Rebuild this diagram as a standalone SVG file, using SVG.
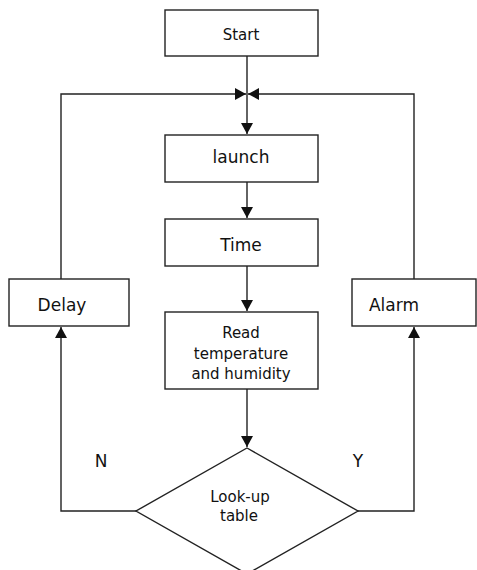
<svg xmlns="http://www.w3.org/2000/svg" width="477" height="570" viewBox="0 0 477 570">
<style>
.box{fill:#fff;stroke:#222;stroke-width:1.4}
.ln{fill:none;stroke:#222;stroke-width:1.4}
text{font-family:"DejaVu Sans",sans-serif;fill:#111;text-anchor:middle}
.s15{font-size:15px}
.s17{font-size:17px}
</style>
<defs>
<marker id="ar" markerUnits="userSpaceOnUse" markerWidth="12" markerHeight="12" viewBox="0 0 12 12" refX="11" refY="6" orient="auto">
<path d="M0,0 L11,6 L0,12 Z" fill="#111"/>
</marker>
</defs>
<rect width="477" height="570" fill="#fff"/>
<g id="connectors">
<path class="ln" d="M247,56 V134" marker-end="url(#ar)"/>
<path class="ln" d="M61,279 V94 H246" marker-end="url(#ar)"/>
<path class="ln" d="M414,279 V94 H248" marker-end="url(#ar)"/>
<path class="ln" d="M247,182 V218" marker-end="url(#ar)"/>
<path class="ln" d="M247,266 V311" marker-end="url(#ar)"/>
<path class="ln" d="M247,389 V447" marker-end="url(#ar)"/>
<path class="ln" d="M136,511 H61 V327" marker-end="url(#ar)"/>
<path class="ln" d="M358,511 H414 V327" marker-end="url(#ar)"/>
</g>
<g id="start"><rect class="box" x="165" y="10" width="153" height="46"/><text class="s15" x="241" y="40">Start</text></g>
<g id="launch"><rect class="box" x="165" y="135" width="153" height="47"/><text class="s17" x="241" y="163">launch</text></g>
<g id="time"><rect class="box" x="165" y="219" width="153" height="47"/><text class="s17" x="241" y="251">Time</text></g>
<g id="read"><rect class="box" x="165" y="312" width="153" height="77"/><text class="s15" x="241" y="338">Read</text><text class="s15" x="241" y="359">temperature</text><text class="s15" x="241" y="379">and humidity</text></g>
<g id="delay"><rect class="box" x="9" y="279" width="120" height="47"/><text class="s17" x="62" y="311">Delay</text></g>
<g id="alarm"><rect class="box" x="352" y="279" width="124" height="47"/><text class="s17" x="394" y="311">Alarm</text></g>
<g id="lookup"><path class="box" d="M247,448 L358,511 L247,574 L136,511 Z"/><text class="s15" x="240" y="502">Look-up</text><text class="s15" x="239" y="521">table</text></g>
<g id="labels"><text class="s17" x="101" y="467">N</text><text class="s17" x="358" y="467">Y</text></g>
</svg>
